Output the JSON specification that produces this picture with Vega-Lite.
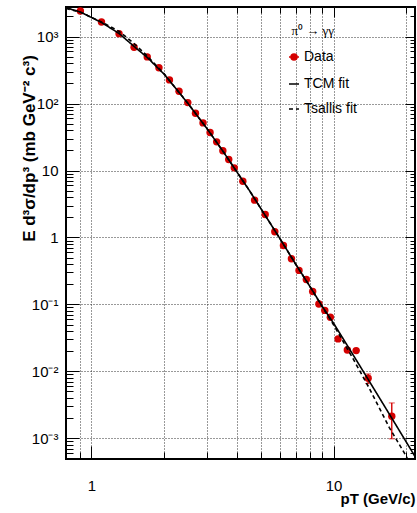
{
  "$schema": "https://vega.github.io/schema/vega-lite/v6.json",
  "width": 349,
  "height": 452,
  "autosize": "none",
  "padding": {"left": 66, "top": 7, "right": 2, "bottom": 54},
  "background": "white",
  "config": {
    "view": {"stroke": "black", "strokeWidth": 2},
    "font": "Liberation Sans"
  },
  "datasets": {
    "points": [
      {"pt": 0.9, "y": 2420, "series": "Data"},
      {"pt": 1.1, "y": 1655, "series": "Data"},
      {"pt": 1.3, "y": 1109, "series": "Data"},
      {"pt": 1.5, "y": 695, "series": "Data"},
      {"pt": 1.7, "y": 498, "series": "Data"},
      {"pt": 1.9, "y": 344, "series": "Data"},
      {"pt": 2.1, "y": 226, "series": "Data"},
      {"pt": 2.3, "y": 153, "series": "Data"},
      {"pt": 2.5, "y": 103.5, "series": "Data"},
      {"pt": 2.69, "y": 71.9, "series": "Data"},
      {"pt": 2.89, "y": 51.5, "series": "Data"},
      {"pt": 3.09, "y": 36.9, "series": "Data"},
      {"pt": 3.29, "y": 26.8, "series": "Data"},
      {"pt": 3.49, "y": 19.7, "series": "Data"},
      {"pt": 3.69, "y": 14.6, "series": "Data"},
      {"pt": 3.89, "y": 10.96, "series": "Data"},
      {"pt": 4.22, "y": 6.9, "series": "Data"},
      {"pt": 4.72, "y": 3.61, "series": "Data"},
      {"pt": 5.22, "y": 2.2, "series": "Data"},
      {"pt": 5.72, "y": 1.22, "series": "Data"},
      {"pt": 6.21, "y": 0.76, "series": "Data"},
      {"pt": 6.7, "y": 0.481, "series": "Data"},
      {"pt": 7.2, "y": 0.322, "series": "Data"},
      {"pt": 7.72, "y": 0.236, "series": "Data"},
      {"pt": 8.2, "y": 0.156, "series": "Data"},
      {"pt": 8.7, "y": 0.1016, "series": "Data"},
      {"pt": 9.2, "y": 0.0813, "series": "Data"},
      {"pt": 9.7, "y": 0.0644, "series": "Data"},
      {"pt": 10.44, "y": 0.0305, "series": "Data"},
      {"pt": 11.4, "y": 0.0208, "series": "Data"},
      {"pt": 12.4, "y": 0.0204, "series": "Data"},
      {"pt": 13.9, "y": 0.00787, "series": "Data"},
      {"pt": 17.4, "y": 0.00213, "series": "Data"}
    ],
    "errs": [
      {"pt": 13.9, "lo": 0.00655, "hi": 0.00914},
      {"pt": 17.4, "lo": 0.00098, "hi": 0.00337}
    ],
    "curves": [
      {"pt": 0.785, "y": 2709, "series": "TCM fit"},
      {"pt": 0.9, "y": 2337, "series": "TCM fit"},
      {"pt": 1.0, "y": 1934, "series": "TCM fit"},
      {"pt": 1.1, "y": 1629, "series": "TCM fit"},
      {"pt": 1.3, "y": 1116, "series": "TCM fit"},
      {"pt": 1.5, "y": 714, "series": "TCM fit"},
      {"pt": 1.7, "y": 489, "series": "TCM fit"},
      {"pt": 2.0, "y": 272.9, "series": "TCM fit"},
      {"pt": 2.5, "y": 101.4, "series": "TCM fit"},
      {"pt": 3.0, "y": 42.36, "series": "TCM fit"},
      {"pt": 3.5, "y": 19.21, "series": "TCM fit"},
      {"pt": 4.0, "y": 9.37, "series": "TCM fit"},
      {"pt": 4.5, "y": 4.98, "series": "TCM fit"},
      {"pt": 5.0, "y": 2.73, "series": "TCM fit"},
      {"pt": 6.0, "y": 0.966, "series": "TCM fit"},
      {"pt": 7.0, "y": 0.3914, "series": "TCM fit"},
      {"pt": 8.0, "y": 0.1837, "series": "TCM fit"},
      {"pt": 9.0, "y": 0.0924, "series": "TCM fit"},
      {"pt": 10.0, "y": 0.0524, "series": "TCM fit"},
      {"pt": 12.0, "y": 0.018, "series": "TCM fit"},
      {"pt": 14.0, "y": 0.00726, "series": "TCM fit"},
      {"pt": 17.0, "y": 0.002297, "series": "TCM fit"},
      {"pt": 21.7, "y": 0.000535, "series": "TCM fit"},
      {"pt": 0.785, "y": 2650, "series": "Tsallis fit"},
      {"pt": 0.9, "y": 2310, "series": "Tsallis fit"},
      {"pt": 1.0, "y": 1940, "series": "Tsallis fit"},
      {"pt": 1.1, "y": 1660, "series": "Tsallis fit"},
      {"pt": 1.3, "y": 1200, "series": "Tsallis fit"},
      {"pt": 1.5, "y": 790, "series": "Tsallis fit"},
      {"pt": 1.7, "y": 515, "series": "Tsallis fit"},
      {"pt": 2.0, "y": 276, "series": "Tsallis fit"},
      {"pt": 2.5, "y": 101.4, "series": "Tsallis fit"},
      {"pt": 3.0, "y": 42.36, "series": "Tsallis fit"},
      {"pt": 3.5, "y": 19.21, "series": "Tsallis fit"},
      {"pt": 4.0, "y": 9.37, "series": "Tsallis fit"},
      {"pt": 4.5, "y": 4.98, "series": "Tsallis fit"},
      {"pt": 5.0, "y": 2.73, "series": "Tsallis fit"},
      {"pt": 6.0, "y": 0.966, "series": "Tsallis fit"},
      {"pt": 7.0, "y": 0.3914, "series": "Tsallis fit"},
      {"pt": 8.0, "y": 0.1837, "series": "Tsallis fit"},
      {"pt": 9.0, "y": 0.0907, "series": "Tsallis fit"},
      {"pt": 10.0, "y": 0.0497, "series": "Tsallis fit"},
      {"pt": 12.0, "y": 0.01574, "series": "Tsallis fit"},
      {"pt": 14.0, "y": 0.00571, "series": "Tsallis fit"},
      {"pt": 17.0, "y": 0.001445, "series": "Tsallis fit"},
      {"pt": 20.0, "y": 0.000533, "series": "Tsallis fit"},
      {"pt": 21.7, "y": 0.00027, "series": "Tsallis fit"}
    ]
  },
  "resolve": {"axis": {"x": "independent", "y": "independent"}},
  "layer": [
    {
      "data": {"name": "points"},
      "mark": {"type": "point", "filled": true, "size": 55, "opacity": 1},
      "encoding": {
        "x": {
          "field": "pt", "type": "quantitative",
          "scale": {"type": "log", "domain": [0.785, 21.7], "nice": false},
          "axis": {
            "orient": "bottom",
            "values": [0.9, 1, 2, 3, 4, 5, 6, 7, 8, 9, 10, 20],
            "labelExpr": "datum.value == 1 ? '1' : datum.value == 10 ? '10' : ''",
            "ticks": false, "domain": false,
            "grid": true, "gridColor": "#333", "gridDash": [1, 2], "gridWidth": 1,
            "labelFont": "Liberation Sans", "labelFontSize": 15, "labelColor": "black",
            "labelBaseline": "alphabetic", "labelAlign": "center",
            "labelPadding": 31, "labelFlush": false, "labelOverlap": false,
            "title": "pT (GeV/c)",
            "titleFont": "Liberation Sans", "titleFontSize": 15, "titleFontWeight": "bold",
            "titleColor": "black", "titleAnchor": "end", "titleAlign": "right",
            "titleBaseline": "middle", "titleX": 349, "titleY": 39
          }
        },
        "y": {
          "field": "y", "type": "quantitative",
          "scale": {"type": "log", "domain": [0.00049, 2773], "nice": false},
          "axis": {
            "orient": "left",
            "values": [0.001, 0.01, 0.1, 1, 10, 100, 1000],
            "labelExpr": "datum.value >= 999 ? '10³' : datum.value >= 99 ? '10²' : datum.value >= 9 ? '10' : datum.value >= 0.9 ? '1' : datum.value >= 0.09 ? '10⁻¹' : datum.value >= 0.009 ? '10⁻²' : '10⁻³'",
            "ticks": true, "tickSize": 4, "tickOpacity": 0, "domain": false,
            "grid": true, "gridColor": "#333", "gridDash": [1, 2], "gridWidth": 1,
            "labelFont": "Liberation Sans", "labelFontSize": 15, "labelColor": "black",
            "labelAlign": "right", "labelBaseline": "middle",
            "labelPadding": 4, "labelFlush": false, "labelOverlap": false,
            "title": "E d³σ/dp³ (mb GeV⁻² c³)",
            "titleFont": "Liberation Sans", "titleFontSize": 17, "titleFontWeight": "bold",
            "titleColor": "black", "titleAngle": -90, "titleAlign": "center",
            "titleBaseline": "middle", "titleX": -37, "titleY": 141
          }
        },
        "fill": {
          "field": "series", "type": "nominal",
          "scale": {"domain": ["Data"], "range": ["#d40000"]},
          "legend": {
            "orient": "none", "legendX": 221, "legendY": 18, "padding": 0,
            "title": "π⁰ → γγ",
            "titleFont": "Liberation Serif", "titleFontSize": 13, "titleFontWeight": "normal",
            "titleColor": "black", "titleAnchor": "end", "titlePadding": 12,
            "labelFont": "Liberation Sans", "labelFontSize": 14, "labelColor": "black",
            "labelOffset": 3, "symbolSize": 100,
            "symbolType": "M-1,0H1M-0.6,0A0.6,0.6,0,1,1,0.6,0A0.6,0.6,0,1,1,-0.6,0Z",
            "symbolStrokeColor": "#d40000", "symbolStrokeWidth": 1.5, "symbolOpacity": 1
          }
        }
      }
    },
    {
      "data": {"name": "errs"},
      "mark": {"type": "rule", "color": "#d40000", "strokeWidth": 1},
      "encoding": {
        "x": {
          "field": "pt", "type": "quantitative",
          "axis": {
            "orient": "bottom", "offset": 0,
            "values": [0.9, 2, 3, 4, 5, 6, 7, 8, 9, 20],
            "labels": false, "domain": false, "grid": false, "title": null,
            "ticks": true, "tickColor": "black", "tickWidth": 1, "tickSize": -7
          }
        },
        "y": {
          "field": "lo", "type": "quantitative",
          "axis": {
            "orient": "left", "offset": 0,
            "values": [0.0005, 0.0006, 0.0007, 0.0008, 0.0009, 0.002, 0.003, 0.004, 0.005, 0.006, 0.007, 0.008, 0.009, 0.02, 0.03, 0.04, 0.05, 0.06, 0.07, 0.08, 0.09, 0.2, 0.3, 0.4, 0.5, 0.6, 0.7, 0.8, 0.9, 2, 3, 4, 5, 6, 7, 8, 9, 20, 30, 40, 50, 60, 70, 80, 90, 200, 300, 400, 500, 600, 700, 800, 900, 2000],
            "labels": false, "domain": false, "grid": false, "title": null,
            "ticks": true, "tickColor": "black", "tickWidth": 1, "tickSize": -7
          }
        },
        "y2": {"field": "hi"}
      }
    },
    {
      "data": {"name": "errs"},
      "transform": [{"fold": ["lo", "hi"], "as": ["k", "v"]}],
      "mark": {"type": "tick", "orient": "horizontal", "color": "#d40000", "size": 6, "thickness": 1},
      "encoding": {
        "x": {
          "field": "pt", "type": "quantitative",
          "axis": {
            "orient": "top", "offset": 0,
            "values": [0.9, 2, 3, 4, 5, 6, 7, 8, 9, 20],
            "labels": false, "domain": false, "grid": false, "title": null,
            "ticks": true, "tickColor": "black", "tickWidth": 1, "tickSize": -6
          }
        },
        "y": {
          "field": "v", "type": "quantitative",
          "axis": {
            "orient": "right", "offset": 0,
            "values": [0.0005, 0.0006, 0.0007, 0.0008, 0.0009, 0.002, 0.003, 0.004, 0.005, 0.006, 0.007, 0.008, 0.009, 0.02, 0.03, 0.04, 0.05, 0.06, 0.07, 0.08, 0.09, 0.2, 0.3, 0.4, 0.5, 0.6, 0.7, 0.8, 0.9, 2, 3, 4, 5, 6, 7, 8, 9, 20, 30, 40, 50, 60, 70, 80, 90, 200, 300, 400, 500, 600, 700, 800, 900, 2000],
            "labels": false, "domain": false, "grid": false, "title": null,
            "ticks": true, "tickColor": "black", "tickWidth": 1, "tickSize": -5
          }
        }
      }
    },
    {
      "data": {"name": "errs"},
      "mark": {"type": "rule", "color": "#d40000", "strokeWidth": 1},
      "encoding": {
        "x": {
          "field": "pt", "type": "quantitative",
          "axis": {
            "orient": "top", "offset": 0,
            "values": [1, 10],
            "labels": false, "domain": false, "grid": false, "title": null,
            "ticks": true, "tickColor": "black", "tickWidth": 1, "tickSize": -10
          }
        },
        "y": {
          "field": "lo", "type": "quantitative",
          "axis": {
            "orient": "right", "offset": 0,
            "values": [0.001, 0.01, 0.1, 1, 10, 100, 1000],
            "labels": false, "domain": false, "grid": false, "title": null,
            "ticks": true, "tickColor": "black", "tickWidth": 1, "tickSize": -10
          }
        },
        "y2": {"field": "hi"}
      }
    },
    {
      "data": {"name": "curves"},
      "mark": {"type": "line", "strokeWidth": 1.6, "clip": true, "color": "black"},
      "encoding": {
        "x": {
          "field": "pt", "type": "quantitative",
          "axis": {
            "orient": "bottom", "offset": 0,
            "values": [1, 10],
            "labels": false, "domain": false, "grid": false, "title": null,
            "ticks": true, "tickColor": "black", "tickWidth": 1, "tickSize": -13
          }
        },
        "y": {
          "field": "y", "type": "quantitative",
          "axis": {
            "orient": "left", "offset": 0,
            "values": [0.001, 0.01, 0.1, 1, 10, 100, 1000],
            "labels": false, "domain": false, "grid": false, "title": null,
            "ticks": true, "tickColor": "black", "tickWidth": 1, "tickSize": -13
          }
        },
        "strokeDash": {
          "field": "series", "type": "nominal",
          "scale": {"domain": ["TCM fit", "Tsallis fit"], "range": [[1, 0], [4, 3]]},
          "legend": {
            "orient": "none", "legendX": 221, "legendY": 70, "padding": 0,
            "title": null,
            "labelFont": "Liberation Sans", "labelFontSize": 14, "labelColor": "black",
            "labelOffset": 3, "symbolSize": 100, "rowPadding": 11,
            "symbolType": "stroke", "symbolStrokeColor": "black", "symbolStrokeWidth": 1.5
          }
        }
      }
    }
  ]
}
